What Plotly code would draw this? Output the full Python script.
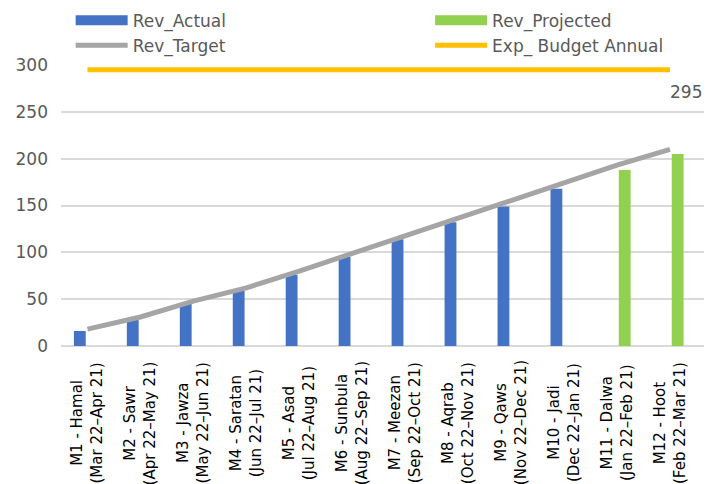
import plotly.graph_objects as go

# Afghan solar months with their Gregorian spans
months = ["M1 - Hamal", "M2 - Sawr", "M3 - Jawza", "M4 - Saratan", "M5 - Asad",
          "M6 - Sunbula", "M7 - Meezan", "M8 - Aqrab", "M9 - Qaws", "M10 - Jadi",
          "M11 - Dalwa", "M12 - Hoot"]
spans = ["(Mar 22\u2013Apr 21)", "(Apr 22\u2013May 21)", "(May 22\u2013Jun 21)",
         "(Jun 22\u2013Jul 21)", "(Jul 22\u2013Aug 21)", "(Aug 22\u2013Sep 21)",
         "(Sep 22\u2013Oct 21)", "(Oct 22\u2013Nov 21)", "(Nov 22\u2013Dec 21)",
         "(Dec 22\u2013Jan 21)", "(Jan 22\u2013Feb 21)", "(Feb 22\u2013Mar 21)"]

rev_actual = [16, 28, 45, 59, 76, 95, 114, 132, 149, 168, None, None]
rev_projected = [None] * 10 + [188, 205]
rev_target = [18, 31, 48, 62, 80, 99, 118, 136, 155, 175, 193, 210]
exp_budget_annual = [295] * 12

BLUE = "#4472C4"
GREEN = "#92D050"
GRAY = "#A5A5A5"
GOLD = "#FFC000"
TEXT = "#595959"
GRID = "#D9D9D9"
FONT = "DejaVu Sans"

cats = months

fig = go.Figure()

fig.add_trace(go.Bar(x=cats, y=rev_actual, name="Rev_Actual",
                     marker=dict(color=BLUE, line=dict(width=0)),
                     showlegend=False))
fig.add_trace(go.Bar(x=cats, y=rev_projected, name="Rev_Projected",
                     marker=dict(color=GREEN, line=dict(width=0)),
                     showlegend=False))
fig.add_trace(go.Scatter(x=cats, y=rev_target, name="Rev_Target", mode="lines",
                         line=dict(color=GRAY, width=5), showlegend=False,
                         cliponaxis=False))
fig.add_trace(go.Scatter(x=cats, y=exp_budget_annual, name="Exp_ Budget Annual",
                         mode="lines", line=dict(color=GOLD, width=5),
                         showlegend=False, cliponaxis=False))

# legend entries: wide block swatches for the bars, thick strokes for the lines;
# left column in the first legend, right column in the second
legend_items = [("Rev_Actual", BLUE, 12, "legend"),
                ("Rev_Target", GRAY, 5, "legend"),
                ("Rev_Projected", GREEN, 12, "legend2"),
                ("Exp_ Budget Annual", GOLD, 5, "legend2")]
for rank, (name, color, w, lg) in enumerate(legend_items):
    fig.add_trace(go.Scatter(x=[None], y=[None], name=name, mode="lines",
                             line=dict(color=color, width=w), legend=lg,
                             legendrank=rank + 1, hoverinfo="skip"))

# two-line category labels, rotated and centred under each month
for m, s in zip(months, spans):
    fig.add_annotation(x=m, y=0, xref="x", yref="paper", yshift=-77,
                       text=f"{m}<br>{s}", textangle=-90, showarrow=False,
                       xanchor="center", yanchor="middle", align="center",
                       font=dict(family=FONT, size=15, color="#000000"))

# value label for the annual budget
fig.add_annotation(x=months[-1], y=exp_budget_annual[-1], xref="x", yref="y",
                   text=str(exp_budget_annual[-1]), showarrow=False,
                   xshift=16, yshift=-22,
                   font=dict(family=FONT, size=17, color=TEXT))

legend_style = dict(orientation="v", xanchor="left", y=1.222, yanchor="top",
                    itemwidth=52, tracegroupgap=0, traceorder="normal",
                    bgcolor="rgba(0,0,0,0)",
                    font=dict(family=FONT, size=17, color=TEXT))

fig.update_layout(
    width=707, height=484,
    margin=dict(l=61, r=3, t=63, b=138),
    paper_bgcolor="white", plot_bgcolor="white",
    barmode="group", bargap=0.42, bargroupgap=0.23,
    font=dict(family=FONT, size=17, color=TEXT),
    legend=dict(x=0.015, **legend_style),
    legend2=dict(x=0.574, **legend_style),
    xaxis=dict(type="category", showticklabels=False, showgrid=False,
               showline=False, zeroline=False, ticks=""),
    yaxis=dict(range=[0, 300], tickvals=[0, 50, 100, 150, 200, 250, 300],
               showgrid=True, gridcolor=GRID, gridwidth=2,
               zeroline=True, zerolinecolor=GRID, zerolinewidth=2,
               showline=False, ticks="", ticklabelstandoff=12,
               tickfont=dict(family=FONT, size=17, color=TEXT)),
)

fig.write_html("out.html")
